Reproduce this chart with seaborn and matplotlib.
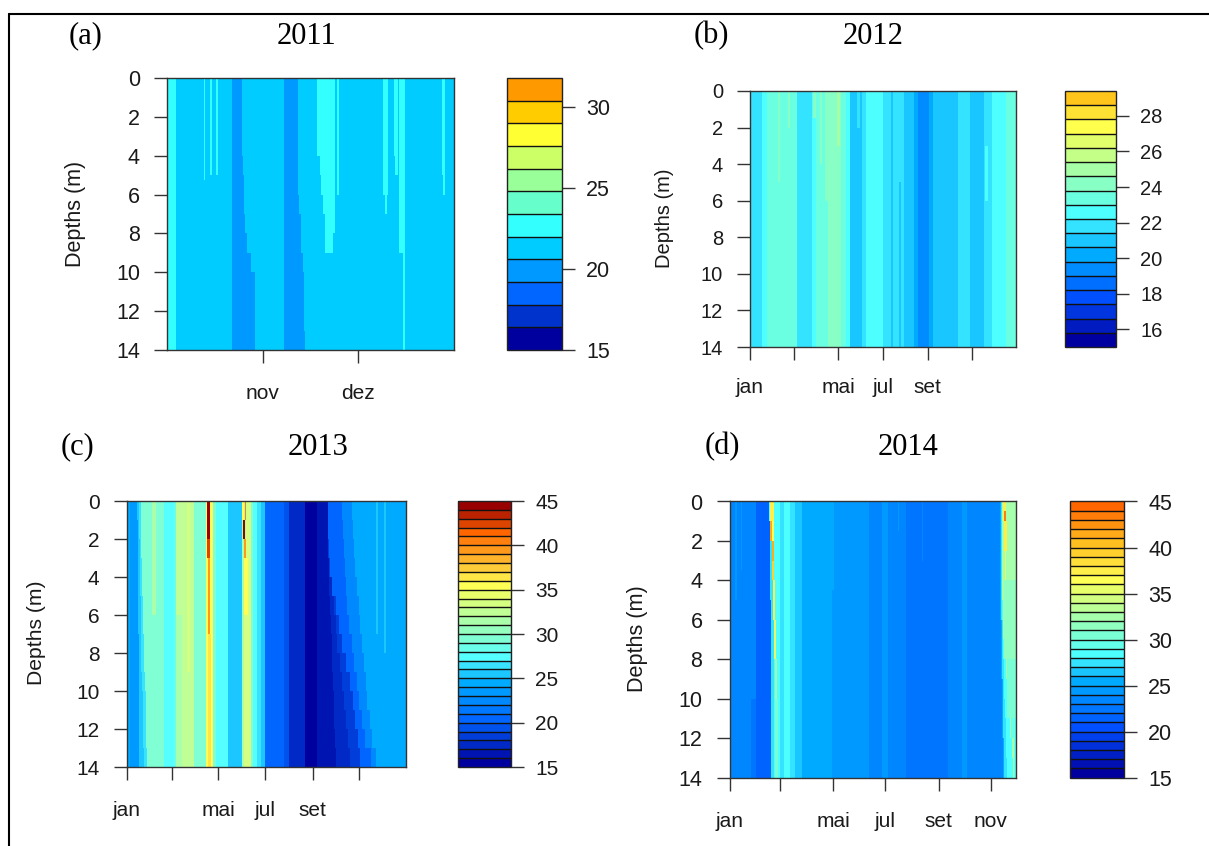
import numpy as np
import matplotlib
matplotlib.use("Agg")
import matplotlib.pyplot as plt
from matplotlib.colors import ListedColormap, BoundaryNorm, to_rgb
from matplotlib.lines import Line2D
import seaborn as sns

# band_end = day of year where a band stops, list = one value per 1 m depth layer
# streaks = (first day, last day, top depth, bottom depth, temperature)

# 2011
a_layer1 = [298.6, 298.6, 298.6, 298.6, 298.9, 299.3, 299.3, 299.5, 300.1, 301.5, 302.5, 302.5, 302.5, 302.5]
a_layer2 = [316.2, 316.2, 316.2, 316.2, 316.2, 316.2, 316.5, 316.9, 317.3, 317.8, 317.9, 317.9, 317.9, 318.5]
a_wedge1 = [321.9, 321.9, 321.9, 322.3, 323.0, 323.5, 324.0, 324.5, 324.7, 327.0, 327.0, 327.0, 327.0, 327.0]
a_wedge2 = [327.7, 327.7, 327.7, 327.7, 327.7, 327.7, 327.7, 327.7, 327.2, 327.0, 327.0, 327.0, 327.0, 327.0]
a_ends = [277.8, 295.4, a_layer1, 311.8, a_layer2, a_wedge1, a_wedge2]
a_temps = [22.7, 21.3, 20, 21.3, 20, 21.3, 22.7, 21.3]
a_streaks = [(286.5, 287.1, 0, 5.2, 22.7), (288.4, 289.2, 0, 5, 22.7), (290.2, 291.1, 0, 3, 22.7),
             (290.6, 291.1, 3, 5, 22.7), (328.2, 328.9, 0, 6, 22.7), (343.1, 344.4, 0, 6, 22.7),
             (343.6, 344.1, 6, 7, 22.7), (346.2, 347.6, 0, 4, 22.7), (346.7, 347.6, 4, 5, 22.7),
             (347.8, 349.7, 0, 9, 22.7), (349.1, 349.7, 9, 14, 22.7), (361.2, 362.2, 0, 5, 22.7),
             (361.7, 362.2, 5, 6, 22.7)]

# 2012
b_ends = [16.5, 23.9, 63.8, 84.4, 89.9, 106.4, 124.8, 131.7, 137.6, 153.2, 158.3, 182.1, 193.1,
          195.9, 211.9, 225.7, 230.3, 245.9, 250.5, 286.2, 302.3, 321.6, 332.6, 351.4]
b_temps = [21.8, 22.6, 23.4, 21.8, 22.6, 23.4, 24.2, 23.4, 22.6, 21, 21.8, 22.6, 21.8,
           21, 21.8, 21, 20.2, 19.4, 20.2, 21, 21.8, 21, 21.8, 22.6, 23.4]
b_streaks = [(38.5, 40.3, 0, 5, 24.2), (52.3, 54.6, 0, 2, 24.2), (86.7, 89.9, 0, 1.5, 24.2),
             (95.9, 99.1, 0, 4, 24.2), (102.8, 106.4, 0, 6, 24.2), (118.8, 123.4, 0, 3, 25),
             (137.6, 140.4, 0, 6, 21), (147.7, 150.9, 0, 2, 21.8), (204.1, 206.9, 5, 14, 21),
             (322.9, 326, 3, 6, 22.6)]

# 2013
c_e2 = [13.9, 14.4, 14.8, 15.2, 15.2, 15.7, 15.7, 16.1, 16.1, 16.1, 16.1, 16.1, 16.1, 16.1]
c_e3 = [16.1, 16.6, 17.0, 17.4, 17.9, 18.3, 18.7, 19.2, 19.6, 20.5, 20.9, 21.3, 21.8, 22.6]
c_e4 = [18.3, 18.7, 19.2, 20.0, 20.5, 21.3, 21.8, 22.6, 23.1, 24.0, 24.8, 25.7, 26.1, 27.0]
c_ea = [263.5, 263.5, 263.5, 264.4, 265.2, 266.1, 267.0, 267.9, 268.7, 269.6, 270.5, 271.3, 272.2, 273.1]
c_eb = [263.5, 263.5, 263.5, 265.2, 267.9, 270.5, 273.1, 275.7, 278.3, 280.9, 283.5, 286.1, 288.8, 292.7]
c_ec = [263.5, 263.5, 264.4, 266.1, 268.7, 273.1, 277.4, 280.9, 286.1, 291.4, 295.7, 299.2, 302.7, 305.7]
c_ed = [281.8, 282.7, 283.5, 284.8, 286.1, 287.9, 290.5, 294.0, 297.0, 300.5, 303.6, 307.1, 311.4, 318.8]
c_ee = [294.9, 295.7, 297.0, 299.2, 301.4, 303.6, 305.7, 307.9, 310.1, 312.3, 314.5, 317.5, 321.0, 325.3]
c_ends = [3.9, c_e2, c_e3, c_e4, 48.8, 61.8, 64.9, 71.9, 88, 104.1, 112.8, 116.3, 132.8, 151.1,
          156.4, 162, 165, 170.7, 175, 181.6, 205.6, 212.1, 233, 249.1, c_ea, c_eb, c_ec, c_ed, c_ee]
c_temps = [24.5, 23.5, 25.5, 26.5, 29.5, 27.5, 28.5, 31.5, 32.5, 29.5, 35.5, 29.5, 27.5, 25.5,
           31.5, 33.5, 29.5, 27.5, 26.5, 25.5, 20.5, 19.5, 17.5, 15.5, 16.5, 17.5, 18.5, 20.5, 22.5, 24.5]
c_streaks = [(104.5, 108.4, 0, 2, 44.5), (105.4, 108.4, 2, 3, 42.5), (106.7, 109.3, 3, 7, 39.5),
             (106.7, 111.1, 7, 14, 36.5), (150.3, 154.2, 0, 1, 35.5), (154.6, 156.4, 0, 1, 40.5),
             (152.4, 155.0, 1, 2, 44.5), (153.3, 155.9, 2, 3, 39.5), (153.3, 158.5, 3, 6, 35.5),
             (154.2, 160.7, 6, 14, 33.5), (64.9, 71.9, 0, 6, 32.5), (79.3, 83.3, 0, 9, 33.5),
             (33.5, 37.9, 0, 6, 31.5), (325.3, 328, 0, 7, 25.5), (336.2, 338.4, 0, 8, 25.5)]

# 2014
d_l1 = [46.5, 46.9, 47.3, 47.7, 48.0, 48.4, 48.4, 48.8, 48.8, 48.8, 49.2, 49.2, 49.2, 49.2]
d_r1 = [316.8, 316.8, 316.8, 316.8, 317.2, 317.2, 317.6, 318.0, 318.4, 318.8, 319.1, 319.5, 319.9, 320.7]
d_r2 = [318.0, 318.0, 318.0, 318.0, 318.4, 318.4, 318.8, 319.1, 319.5, 319.9, 320.3, 320.7, 321.1, 321.9]
d_r3 = [319.1, 319.1, 319.1, 319.1, 319.1, 319.5, 319.9, 320.3, 321.1, 321.9, 322.7, 323.4, 324.2, 324.6]
d_r4 = [319.5, 319.5, 319.5, 319.5, 319.5, 319.9, 320.7, 321.9, 323.4, 325.0, 326.6, 328.5, 330.5, 332.4]
d_ends = [31.6, d_l1, 52, 59, 64.1, 70.7, 76.6, 85.2, 119.5, 163.3, 178.1, 185.9, 206.6, 255.5,
          271.9, 278.5, d_r1, d_r2, d_r3, d_r4]
d_temps = [23.5, 21.5, 27.5, 28.5, 27.5, 28.5, 27.5, 26.5, 25.5, 24.5, 23.5, 24.5, 23.5, 22.5,
           23.5, 24.5, 23.5, 25.5, 27.5, 28.5, 32]
d_streaks = [(46.5, 48, 0, 1, 28.5), (48, 52, 0, 1, 37.5), (48, 50, 1, 2, 41.5), (50, 52, 1, 2, 36.5),
             (49.6, 52, 2, 3, 41), (50, 52.7, 3, 4, 39), (51.2, 53.5, 4, 6, 37.5), (52.3, 54.3, 6, 8, 35.5),
             (53.1, 55.9, 8, 10, 32), (53.1, 56.3, 10, 14, 30), (25, 31.6, 10, 14, 22.5),
             (6.2, 8.6, 0, 5, 24.5), (14, 15.2, 0, 3.5, 24.5), (197.7, 199.2, 0, 1.5, 24.5),
             (119.5, 122, 0, 4.5, 25.5), (225, 227, 0, 3, 23.5), (322, 335.5, 4, 8, 31),
             (325, 335.5, 8, 11, 30), (329.7, 335.5, 11, 12, 29.5), (332.8, 335.5, 12, 14, 29.5),
             (319.9, 323.8, 0, 1, 37.5), (321.5, 323.8, 0.5, 1, 43), (321.5, 324.6, 1, 2.5, 37.5),
             (322.7, 323.8, 2.5, 4, 35.5)]

depth_ticks = [0, 2, 4, 6, 8, 10, 12, 14]
month_names = ["jan", "", "mai", "jul", "set", ""]

sns.set_theme(style="ticks", rc={"font.family": "Liberation Sans", "axes.linewidth": 1.0})


def ramp(n, anchors):
    # n colours from {index: colour} anchors
    keys = sorted(anchors)
    rgb = np.array([to_rgb(anchors[k]) for k in keys])
    return ListedColormap([[np.interp(i, keys, rgb[:, c]) for c in range(3)] for i in range(n)])


def make_grid(first, last, step, ends, temps, streaks):
    days = np.arange(first, last, step) + step / 2
    depths = (np.arange(56) + 0.5) * 0.25
    grid = np.zeros((len(depths), len(days)))
    for r, depth in enumerate(depths):
        layer = int(depth)
        row_ends = [e[layer] if isinstance(e, list) else e for e in ends]
        grid[r] = np.array(temps)[np.searchsorted(row_ends, days, side="right")]
        for s in streaks:
            if s[2] <= depth < s[3]:
                grid[r][(days >= s[0]) & (days < s[1])] = s[4]
    return grid


def panel(box, cbox, grid, first, step, levels, cmap, xticks, xlabels, cticks, fs=14.5, xpad=15):
    # boxes are in reference pixels: left, right, top, bottom
    W, H = 1209.0, 846.0
    ax = fig.add_axes([box[0] / W, 1 - box[3] / H, (box[1] - box[0]) / W, (box[3] - box[2]) / H])
    cax = fig.add_axes([cbox[0] / W, 1 - box[3] / H, (cbox[1] - cbox[0]) / W, (box[3] - box[2]) / H])
    norm = BoundaryNorm(levels, len(levels) - 1)
    sns.heatmap(grid, ax=ax, cbar_ax=cax, cmap=cmap, norm=norm, xticklabels=False, yticklabels=False,
                cbar_kws={"drawedges": True, "spacing": "proportional", "ticks": cticks})
    for sp in ax.spines.values():
        sp.set_visible(True)
        sp.set_color("#333333")
        sp.set_linewidth(1.0)
    ax.set_yticks([d * 4 for d in depth_ticks])
    ax.set_yticklabels([str(d) for d in depth_ticks], fontsize=fs, color="#1a1a1a")
    ax.set_xticks([(t - first) / step for t in xticks])
    ax.set_xticklabels(xlabels, fontsize=15, color="#1a1a1a")
    ax.tick_params(axis="y", left=True, length=9.5, width=1.0, pad=10, color="#333333")
    ax.tick_params(axis="x", bottom=True, length=9.5, width=1.0, pad=xpad, color="#333333")
    cb = ax.collections[0].colorbar
    cb.ax.minorticks_off()
    cb.outline.set_visible(True)
    cb.outline.set_edgecolor("#222222")
    cb.outline.set_linewidth(1.0)
    cb.dividers.set_color("#111111")
    cb.dividers.set_linewidth(1.0)
    cb.ax.tick_params(length=9.5, width=1.0, pad=8, labelsize=fs, labelcolor="#1a1a1a", color="#333333")
    return ax


fig = plt.figure(figsize=(12.09, 8.46), dpi=100)

cmap_a = ListedColormap(["#00009F", "#0033CC", "#0066FF", "#0099FF", "#00CCFF", "#33FFFF",
                         "#66FFCC", "#99FF99", "#CCFF66", "#FFFF33", "#FFCC00", "#FF9900"])
cmap_b = ramp(18, {0: "#0000A0", 3: "#0050FF", 6: "#00AAFF", 9: "#4DFFFF", 15: "#FFFF4D", 17: "#FFC51A"})
cmap_c = ramp(30, {0: "#00009F", 5: "#0066FF", 9: "#00AAFF", 12: "#55FFFF", 20: "#FFFF55", 26: "#FF6600", 29: "#990000"})
cmap_d = ramp(30, {0: "#00009F", 5: "#0050FF", 9: "#0099FF", 10: "#00AAFF", 13: "#4DFFFF", 21: "#FFFF55",
                   25: "#FFC020", 29: "#FF6600"})

grid_a = make_grid(275, 365, 0.25, a_ends, a_temps, a_streaks)
grid_b = make_grid(0, 365, 0.5, b_ends, b_temps, b_streaks)
grid_c = make_grid(0, 365, 0.5, c_ends, c_temps, c_streaks)
grid_d = make_grid(0, 335.5, 0.5, d_ends, d_temps, d_streaks)

panel((167, 453.5, 78, 350), (507, 562), grid_a, 275, 0.25, 15 + 1.4 * np.arange(13), cmap_a,
      [305, 335], ["nov", "dez"], [15, 20, 25, 30], fs=15.5)
panel((750, 1016, 91, 347), (1065, 1116), grid_b, 0, 0.5, 15 + 0.8 * np.arange(19), cmap_b,
      [0, 61, 121, 182, 244, 305], month_names, [16, 18, 20, 22, 24, 26, 28], fs=14.5, xpad=13)
panel((126.5, 406, 501, 767), (457.5, 511), grid_c, 0, 0.5, 15 + 1.0 * np.arange(31), cmap_c,
      [0, 59, 120, 181, 243, 304], month_names, [15, 20, 25, 30, 35, 40, 45], fs=15)
panel((729.5, 1016, 501.5, 777.5), (1069.5, 1124), grid_d, 0, 0.5, 15 + 1.0 * np.arange(31), cmap_d,
      [0, 59, 121.5, 182.4, 245, 305.9], ["jan", "", "mai", "jul", "set", "nov"], [15, 20, 25, 30, 35, 40, 45], fs=15.5)

for x, y, fs in [(76, 214, 15.5), (664, 218, 14.5), (37, 633, 15.2), (637, 639, 15.6)]:
    fig.text(x / 1209, 1 - y / 846, "Depths (m)", rotation=90, ha="center", va="center", fontsize=fs, color="#1a1a1a")

heads = [(86, 36, "(a)"), (306, 36, "2011"), (711, 36, "(b)"), (873, 36, "2012"),
         (77, 447, "(c)"), (318, 447, "2013"), (722, 447, "(d)"), (908, 447, "2014")]
for x, y, s in heads:
    fig.text(x / 1209, 1 - y / 846, s, ha="center", va="center", fontsize=22,
             family="Liberation Serif", color="black")

# frame of the composite figure, only top and left
fig.add_artist(Line2D([9 / 1209, 1], [1 - 14 / 846, 1 - 14 / 846], color="black", lw=1.5))
fig.add_artist(Line2D([9 / 1209, 9 / 1209], [1 - 14 / 846, 0], color="black", lw=1.5))

fig.savefig("out.png", dpi=100)
